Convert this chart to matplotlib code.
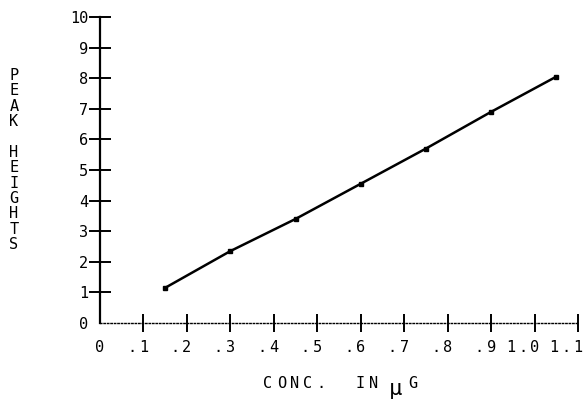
import matplotlib
matplotlib.use("Agg")
import matplotlib.pyplot as plt
import numpy as np

# conc. in ug vs peak heights
conc = [0.15, 0.30, 0.45, 0.60, 0.75, 0.90, 1.05]
peak = [1.15, 2.35, 3.40, 4.55, 5.70, 6.90, 8.05]

x_ticks = [0, .1, .2, .3, .4, .5, .6, .7, .8, .9, 1.0, 1.1]
x_labels = ["0", ".1", ".2", ".3", ".4", ".5", ".6", ".7", ".8", ".9", "1.0", "1.1"]
y_ticks = list(range(0, 11))
y_labels = [str(v) for v in y_ticks]

plt.rcParams['font.family'] = ['DejaVu Sans Mono']

W, H = 586, 401
fig = plt.figure(figsize=(W / 100, H / 100), dpi=100)
ax = fig.add_axes([100 / W, (H - 323) / H, (578 - 100) / W, (323 - 17) / H])

ax.plot(conc, peak, color='black', lw=1.8, marker='s', ms=3.5, mfc='black', mec='black')

ax.set_xlim(0, 1.1)
ax.set_ylim(0, 10)
ax.spines['top'].set_visible(False)
ax.spines['right'].set_visible(False)
ax.spines['left'].set_linewidth(1.6)
ax.spines['bottom'].set_linestyle((0, (1, 1.5)))
ax.spines['bottom'].set_linewidth(1.0)
ax.spines['left'].set_clip_on(False)
ax.spines['bottom'].set_clip_on(False)

ax.set_yticks(y_ticks)
ax.set_yticklabels(y_labels, fontsize=11)
ax.tick_params(axis='y', direction='inout', length=16, width=1.4, pad=0.5)
ax.yaxis.get_major_ticks()[0].tick1line.set_visible(False)

ax.set_xticks(x_ticks)
ax.set_xticklabels([])
ax.tick_params(axis='x', direction='inout', length=13, width=1.4)
ax.xaxis.get_major_ticks()[0].tick1line.set_visible(False)


def spaced(x_px, y_px, s, pitch, size, anchor='last'):
    # plotter style lettering: one glyph per cell
    n = len(s)
    if anchor == 'last':
        x0 = x_px - (n - 1) * pitch
    else:
        x0 = x_px
    for i, ch in enumerate(s):
        fig.text((x0 + i * pitch) / W, 1 - y_px / H, ch, fontsize=size,
                 ha='center', va='center')


# x tick labels, last digit on its tick
for xv, lab in zip(x_ticks, x_labels):
    xp = ax.transData.transform((xv, 0))[0]
    spaced(xp, 348, lab, 12, 11)

# stacked vertical y label
ylab = "PEAK HEIGHTS"
fig.text(14 / W, 1 - 160 / H, "\n".join(ylab), fontsize=11, ha='center', va='center',
         linespacing=1.03)

# x label
spaced(268, 384, "CONC.  IN", 13.2, 11, anchor='first')
fig.text(396 / W, 1 - 389 / H, "\u03bc", fontsize=16, ha='center', va='center')
spaced(413, 384, "G", 13, 11, anchor='first')

fig.savefig("out.png", dpi=100)
